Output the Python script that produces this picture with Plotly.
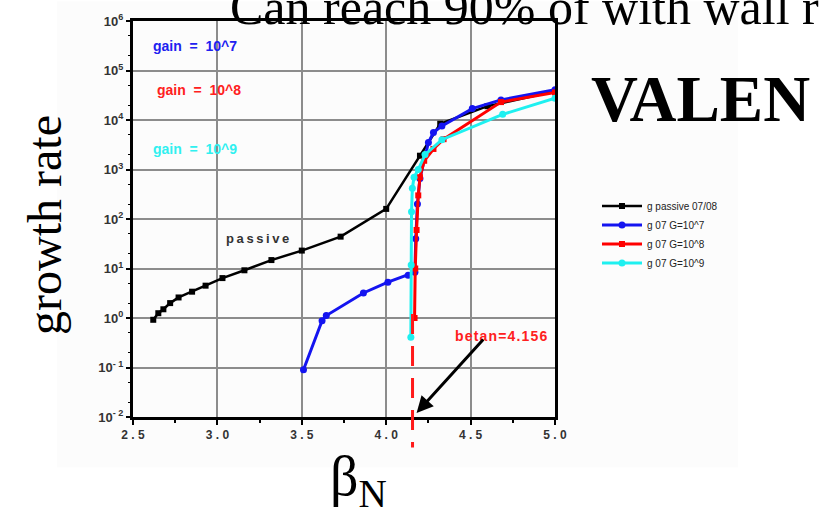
import plotly.graph_objects as go

# ---- data ----
passive_x = [2.62, 2.65, 2.68, 2.72, 2.77, 2.85, 2.93, 3.03, 3.16, 3.32, 3.50, 3.73, 4.00, 4.20, 4.32, 4.60, 5.00]
passive_y = [0.92, 1.25, 1.5, 2.0, 2.6, 3.4, 4.5, 6.4, 9.2, 14.8, 23, 44, 160, 1900, 8400, 19000, 38000]

g7_x = [3.51, 3.62, 3.645, 3.865, 4.01, 4.13, 4.17, 4.175, 4.185, 4.20, 4.25, 4.28, 4.33, 4.51, 4.68, 5.0]
g7_y = [0.09, 0.88, 1.12, 3.2, 5.3, 7.3, 8.4, 40, 200, 660, 3500, 5600, 7600, 17000, 25500, 41000]

g8_x = [4.168, 4.172, 4.18, 4.19, 4.20, 4.225, 4.28, 4.34, 4.68, 5.0]
g8_y = [1.0, 10, 60, 300, 700, 1500, 2600, 4100, 23000, 36000]

g9_x = [4.146, 4.148, 4.150, 4.155, 4.165, 4.19, 4.23, 4.33, 4.69, 5.0]
g9_y = [0.41, 11.7, 140, 420, 700, 1000, 2000, 4000, 13000, 27500]

series_names = ["g passive 07/08", "g 07 G=10^7", "g 07 G=10^8", "g 07 G=10^9"]
betan = 4.156

x_tickvals = [2.5, 3.0, 3.5, 4.0, 4.5, 5.0]
x_ticktext = ["2 . 5", "3 . 0", "3 . 5", "4 . 0", "4 . 5", "5 . 0"]
y_tickvals = [1e-2, 1e-1, 1e0, 1e1, 1e2, 1e3, 1e4, 1e5, 1e6]
y_ticktext = ["10<sup>- 2</sup>", "10<sup>- 1</sup>", "10<sup>0</sup>", "10<sup>1</sup>",
              "10<sup>2</sup>", "10<sup>3</sup>", "10<sup>4</sup>", "10<sup>5</sup>", "10<sup>6</sup>"]

# ---- figure ----
fig = go.Figure()
styles = [
    (passive_x, passive_y, "#000000", "square", 2.5, 6),
    (g7_x, g7_y, "#1414f0", "circle", 3, 7),
    (g8_x, g8_y, "#ff0000", "square", 3, 6),
    (g9_x, g9_y, "#1ef0f0", "circle", 3, 7),
]
for (xs, ys, col, sym, w, ms), name in zip(styles, series_names):
    fig.add_trace(go.Scatter(
        x=xs, y=ys, name=name, mode="lines+markers",
        line=dict(color=col, width=w),
        marker=dict(color=col, symbol=sym, size=ms),
    ))

# faint slide backdrop
fig.add_shape(type="rect", xref="paper", yref="paper",
              x0=(57 - 133) / 422, x1=(738 - 133) / 422,
              y0=(417 - 468) / 402, y1=1.05,
              fillcolor="#fcfcfc", line=dict(width=0), layer="below")

# betan dashed marker
fig.add_shape(type="line", xref="x", yref="paper",
              x0=betan, x1=betan, y0=0.26, y1=-0.077,
              line=dict(color="#ff1a1a", width=3, dash="20px,12px"))

ann_font = dict(family="Liberation Sans, Arial", size=14, weight="bold")
ts = "\u2009"
hs = "\u200a"
fig.add_annotation(x=2.867, y=5.50, text="gain  =  10^7", showarrow=False,
                   font=dict(ann_font, color="#2020f0"))
fig.add_annotation(x=2.89, y=4.61, text="gain  =  10^8", showarrow=False,
                   font=dict(ann_font, color="#ff2020"))
fig.add_annotation(x=2.867, y=3.41, text="gain  =  10^9", showarrow=False,
                   font=dict(ann_font, color="#30f0f0"))
fig.add_annotation(x=3.24, y=1.60, text=ts.join("passive"), showarrow=False,
                   font=dict(ann_font, size=13, color="#333333"))
fig.add_annotation(x=4.68, y=-0.37, text=hs.join("betan=4.156"), showarrow=False,
                   font=dict(ann_font, color="#ff2020"))
# arrow
fig.add_annotation(x=4.18, y=-1.92, ax=68, ay=-75, text="", showarrow=True,
                   arrowhead=2, arrowsize=1.1, arrowwidth=3, arrowcolor="#000000")

serif = "Liberation Serif, Times New Roman, serif"
fig.add_annotation(xref="paper", yref="paper", x=(228 - 133) / 422, y=1.036,
                   xanchor="left", yanchor="middle", showarrow=False,
                   text="Can reach 90% of with wall r",
                   font=dict(family=serif, size=50, color="#000000"))
fig.add_annotation(xref="paper", yref="paper", x=(700 - 133) / 422, y=0.8035,
                   xanchor="center", yanchor="middle", showarrow=False,
                   text="VALEN", font=dict(family=serif, size=65, color="#000000", weight="bold"))
fig.add_annotation(xref="paper", yref="paper", x=(45 - 133) / 422, y=0.485,
                   xanchor="center", yanchor="middle", showarrow=False, textangle=-90,
                   text="growth rate", font=dict(family=serif, size=48, color="#000000"))
fig.add_annotation(xref="paper", yref="paper", x=(358 - 133) / 422, y=-0.16,
                   xanchor="center", yanchor="middle", showarrow=False,
                   text="β<sub>N</sub>", font=dict(family=serif, size=56, color="#000000"))

tick_font = dict(family="Liberation Sans, Arial", size=12, color="#333333", weight="bold")
fig.update_xaxes(range=[2.5, 5.0], tickvals=x_tickvals, ticktext=x_ticktext,
                 showgrid=True, gridcolor="#8c8c8c", gridwidth=2,
                 showline=True, linecolor="#000000", linewidth=3, mirror=True,
                 ticks="outside", ticklen=5, tickwidth=2, tickcolor="#000000",
                 minor=dict(ticks="outside", ticklen=3, tickwidth=2, dtick=0.25,
                            tickcolor="#000000", showgrid=False),
                 tickfont=tick_font, zeroline=False)
fig.update_yaxes(type="log", range=[-2, 6], tickvals=y_tickvals, ticktext=y_ticktext,
                 showgrid=True, gridcolor="#8c8c8c", gridwidth=2,
                 showline=True, linecolor="#000000", linewidth=3, mirror=True,
                 ticks="outside", ticklen=4, tickwidth=2, tickcolor="#000000",
                 minor=dict(ticks="outside", ticklen=2, tickwidth=1,
                            tickcolor="#000000", showgrid=False),
                 tickfont=dict(tick_font, size=13), zeroline=False)

fig.update_layout(
    width=819, height=522,
    margin=dict(l=133, r=264, t=15, b=105),
    paper_bgcolor="#ffffff", plot_bgcolor="#ffffff",
    showlegend=True,
    legend=dict(x=(597 - 133) / 422, y=(417 - 188) / 402, xanchor="left", yanchor="top",
                font=dict(family="Liberation Sans, Arial", size=10, color="#222222"),
                bgcolor="rgba(0,0,0,0)", tracegroupgap=0, itemwidth=40),
)

fig.write_html("out.html")
